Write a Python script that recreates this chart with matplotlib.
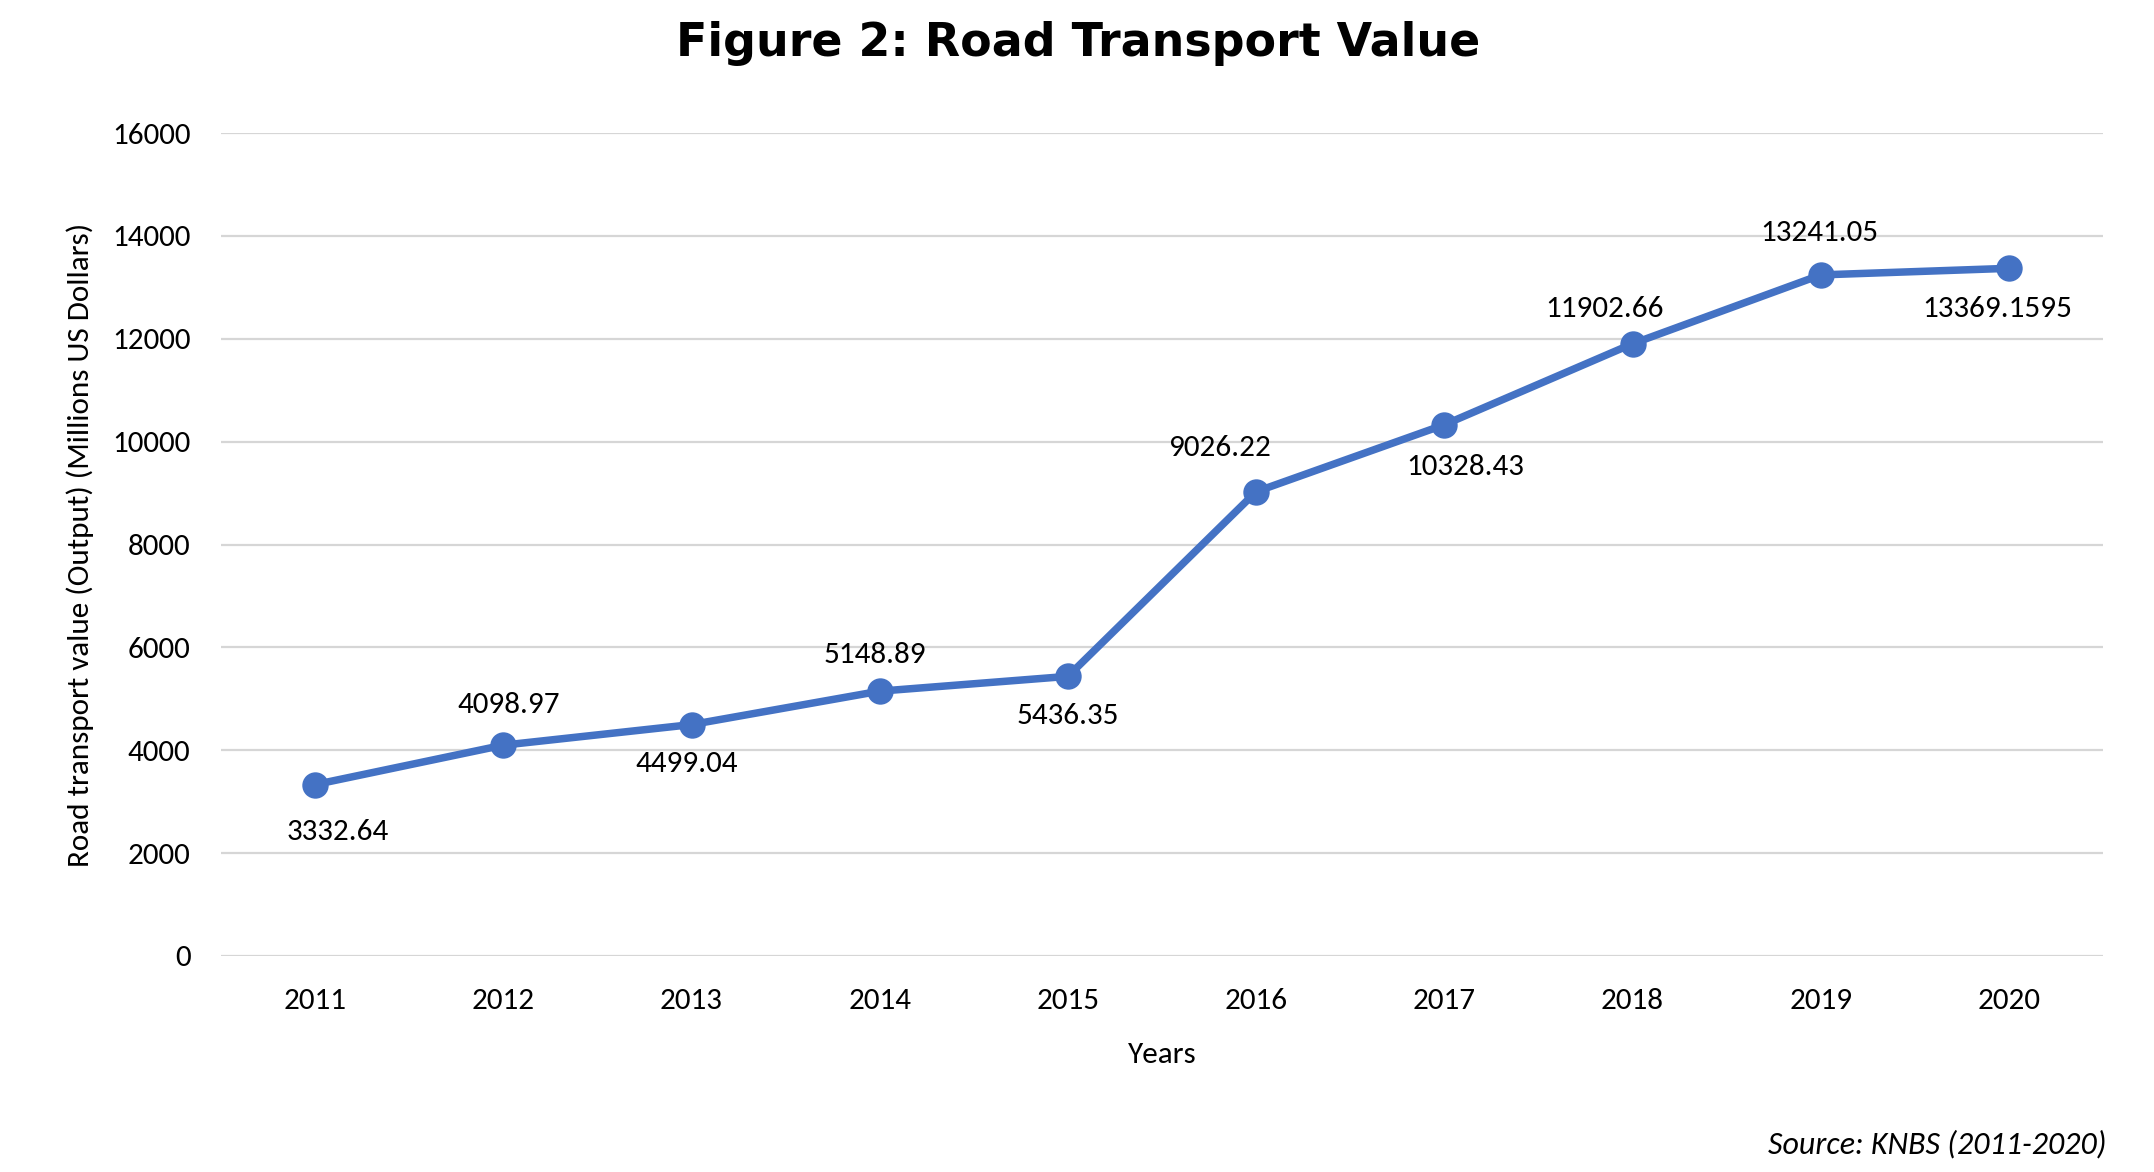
import matplotlib
matplotlib.use("Agg")
import matplotlib.pyplot as plt
from matplotlib.ticker import MultipleLocator

years = ["2011", "2012", "2013", "2014", "2015", "2016", "2017", "2018", "2019", "2020"]
values = [3332.64, 4098.97, 4499.04, 5148.89, 5436.35, 9026.22, 10328.43, 11902.66, 13241.05, 13369.1595]
value_labels = ["3332.64", "4098.97", "4499.04", "5148.89", "5436.35", "9026.22",
                "10328.43", "11902.66", "13241.05", "13369.1595"]

# label offsets (pixels, style only)
label_dx = [23, 5, -5, -5, 0, -37, 21, -28, -1, -12]
label_dy = [-47, 40, -39, 36, -40, 44, -42, 35, 42, -41]

plt.rcParams['font.family'] = ['Carlito', 'Lato', 'DejaVu Sans']

W, H, DPI = 2154, 1172, 200
fig = plt.figure(figsize=(W / DPI, H / DPI), dpi=DPI)
left, right, bottom, top = 221, 2103, 956, 133
ax = fig.add_axes([left / W, 1 - bottom / H, (right - left) / W, (bottom - top) / H])

x = list(range(len(years)))
blue = "#4472C4"
ax.plot(x, values, color=blue, linewidth=2.7, marker='o', markersize=8.5,
        solid_capstyle='round', zorder=3)

FS = 11.2
for xi, v, lab, dx, dy in zip(x, values, value_labels, label_dx, label_dy):
    ax.annotate(lab, (xi, v), xytext=(dx, dy), textcoords='offset pixels',
                ha='center', va='center', fontsize=FS, color='black')

ax.set_xlim(-0.5, len(years) - 0.5)
ax.set_ylim(0, 16000)
ax.yaxis.set_major_locator(MultipleLocator(2000))
ax.set_xticks(x)
ax.set_xticklabels(years)
ax.grid(axis='y', color='#D6D6D6', linewidth=0.8, zorder=0)
ax.set_axisbelow(True)
for s in ax.spines.values():
    s.set_visible(False)
ax.tick_params(axis='both', length=0, labelsize=FS, colors='black')
ax.tick_params(axis='x', pad=11.5)
ax.tick_params(axis='y', pad=11)

ax.set_xlabel("Years", fontsize=FS, labelpad=10)
ax.set_ylabel("Road transport value (Output) (Millions US Dollars)", fontsize=FS, labelpad=6.5)

fig.text(1078 / W, 1 - 56 / H, "Figure 2: Road Transport Value", ha='center', va='baseline',
         fontsize=16.5, fontweight='bold', family='DejaVu Sans')
fig.text(2107 / W, 1 - 1153 / H, "Source: KNBS (2011-2020)", ha='right', va='baseline',
         fontsize=11.5, style='italic')

fig.savefig("out.png", dpi=DPI)
